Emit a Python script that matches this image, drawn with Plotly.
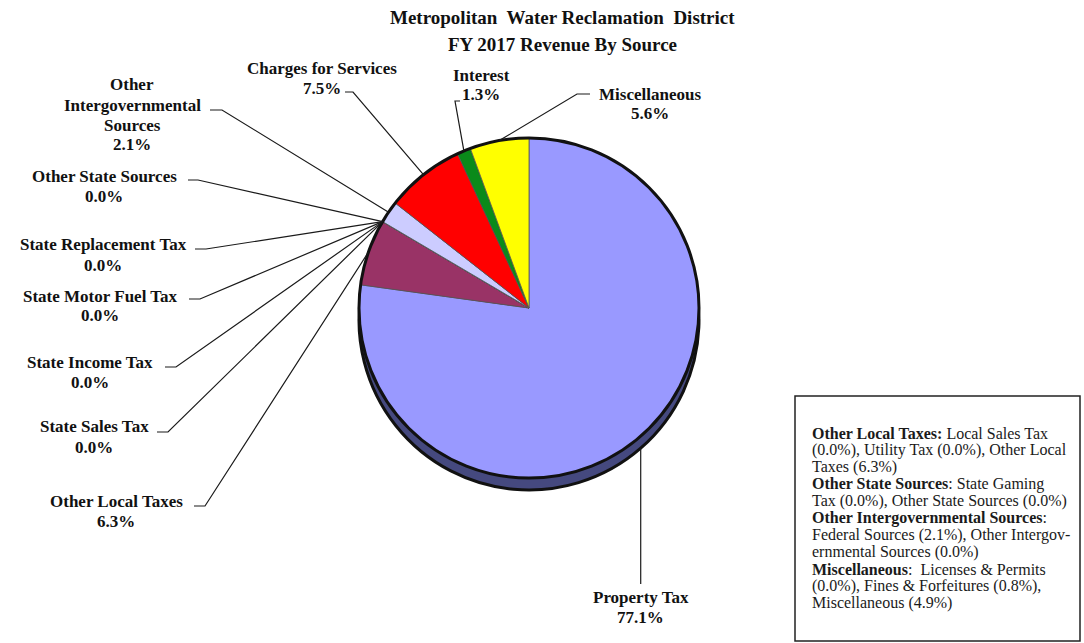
import math
import plotly.graph_objects as go

# ---------------- data ----------------
categories = [
    "Property Tax", "Other Local Taxes", "State Sales Tax", "State Income Tax",
    "State Motor Fuel Tax", "State Replacement Tax", "Other State Sources",
    "Other Intergovernmental Sources", "Charges for Services", "Interest", "Miscellaneous",
]
shares = [77.1, 6.3, 0.0, 0.0, 0.0, 0.0, 0.0, 2.1, 7.5, 1.3, 5.6]

label_text = {
    "Property Tax": ["Property Tax"],
    "Other Local Taxes": ["Other Local Taxes"],
    "State Sales Tax": ["State Sales Tax"],
    "State Income Tax": ["State Income Tax"],
    "State Motor Fuel Tax": ["State Motor Fuel Tax"],
    "State Replacement Tax": ["State Replacement Tax"],
    "Other State Sources": ["Other State Sources"],
    "Other Intergovernmental Sources": ["Other", "Intergovernmental", "Sources"],
    "Charges for Services": ["Charges for Services"],
    "Interest": ["Interest"],
    "Miscellaneous": ["Miscellaneous"],
}

title_lines = ["Metropolitan  Water Reclamation  District", "FY 2017 Revenue By Source"]

note_lines = [
    "<b>Other Local Taxes:</b> Local Sales Tax",
    "(0.0%), Utility Tax (0.0%), Other Local",
    "Taxes (6.3%)",
    "<b>Other State Sources</b>: State Gaming",
    "Tax (0.0%), Other State Sources (0.0%)",
    "<b>Other Intergovernmental Sources</b>:",
    "Federal Sources (2.1%), Other Intergov-",
    "ernmental Sources (0.0%)",
    "<b>Miscellaneous</b>:  Licenses &amp; Permits",
    "(0.0%), Fines &amp; Forfeitures (0.8%),",
    "Miscellaneous (4.9%)",
]

# ---------------- styles / layout ----------------
W, H = 1084, 643
CX, CY, R, DEPTH = 529, 308, 170, 12

top_colors = ["#9999FF", "#993366", "#FFFFCC", "#CCFFFF", "#660066", "#FF8080",
              "#0066CC", "#CCCCFF", "#FF0000", "#0A8A1A", "#FFFF00"]
side_colors = ["#45497F", "#5A1F3C", "#999977", "#779999", "#330033", "#994D4D",
               "#003D7A", "#7A7A99", "#990000", "#055010", "#999900"]

LABEL_FONT = dict(family="Liberation Serif", size=17, color="#111111")
LINE_GAP = 20

# label layout: center x, y of first line, stub points (line leaves label here)
label_pos = {
    "Property Tax": dict(x=None, y=597, stub=None),
    "Other Local Taxes": dict(x=116, y=501, stub=[(194, 506), (205, 506)]),
    "State Sales Tax": dict(x=94, y=427, stub=[(157, 432), (168, 432)]),
    "State Income Tax": dict(x=90, y=362, stub=[(165, 367), (176, 367)]),
    "State Motor Fuel Tax": dict(x=100, y=296, stub=[(189, 299), (200, 299)]),
    "State Replacement Tax": dict(x=103, y=245, stub=[(195, 249), (206, 249)]),
    "Other State Sources": dict(x=104, y=176, stub=[(188, 180), (198, 180)]),
    "Other Intergovernmental Sources": dict(x=132, y=85, stub=[(210, 110), (222, 110)]),
    "Charges for Services": dict(x=322, y=68, stub=[(345, 92), (353, 92)]),
    "Interest": dict(x=481, y=75, stub=[(460, 101), (455, 101)]),
    "Miscellaneous": dict(x=650, y=94, stub=[(590, 94), (577, 94)]),
}


def px(x):
    return x / W


def py(y):
    return 1 - y / H


def dom(cx, cy, r):
    return dict(x=[px(cx - r), px(cx + r)], y=[py(cy + r), py(cy - r)])


fig = go.Figure()

pie_common = dict(
    labels=categories, values=shares, sort=False, direction="clockwise",
    rotation=0, textinfo="none", hoverinfo="skip", showlegend=False,
)

# side (depth) of the pie
fig.add_trace(go.Pie(
    **pie_common, domain=dom(CX, CY + DEPTH, R),
    marker=dict(colors=side_colors, line=dict(color="#111111", width=3)),
))
# top face
fig.add_trace(go.Pie(
    **pie_common, domain=dom(CX, CY, R),
    marker=dict(colors=top_colors, line=dict(color="#555555", width=0.8)),
))
# outer rim outline of the top face
fig.add_trace(go.Pie(
    labels=["rim"], values=[1], sort=False, textinfo="none", hoverinfo="skip",
    showlegend=False, domain=dom(CX, CY, R),
    marker=dict(colors=["rgba(0,0,0,0)"], line=dict(color="#111111", width=3)),
))

annotations = []
shapes = []

total = sum(shares)
cum = 0.0
for name, v in zip(categories, shares):
    mid = (cum + v / 2) / total
    cum += v
    th = 2 * math.pi * mid
    tx = CX + R * math.sin(th)
    ty = CY - R * math.cos(th)
    if math.cos(th) < 0:
        ty += DEPTH
    pos = label_pos[name]
    lines = label_text[name] + [f"{v:.1f}%"]
    lx = pos["x"] if pos["x"] is not None else tx
    for i, t in enumerate(lines):
        annotations.append(dict(
            x=px(lx), y=py(pos["y"] + i * LINE_GAP), xref="paper", yref="paper",
            text=f"<b>{t}</b>", showarrow=False, xanchor="center", yanchor="middle",
            font=LABEL_FONT,
        ))
    if pos["stub"] is None:
        pts = [(tx, pos["y"] - 13), (tx, ty)]
    else:
        pts = list(pos["stub"]) + [(tx, ty)]
    path = "M " + " L ".join(f"{px(a):.5f},{py(b):.5f}" for a, b in pts)
    shapes.append(dict(type="path", path=path, xref="paper", yref="paper",
                       line=dict(color="#1a1a1a", width=1.2)))

# title
for i, t in enumerate(title_lines):
    annotations.append(dict(
        x=px(562), y=py(17 + i * 28), xref="paper", yref="paper",
        text=f"<b>{t}</b>", showarrow=False, xanchor="center", yanchor="middle",
        font=dict(family="Liberation Serif", size=19, color="#111111"),
    ))

# note box
shapes.append(dict(type="rect", xref="paper", yref="paper",
                   x0=px(795), x1=px(1080), y0=py(641), y1=py(396),
                   line=dict(color="#222222", width=1.5), fillcolor="rgba(0,0,0,0)"))
for i, t in enumerate(note_lines):
    annotations.append(dict(
        x=px(810), y=py(433 + i * 17), xref="paper", yref="paper",
        text=t, showarrow=False, xanchor="left", yanchor="middle",
        font=dict(family="Liberation Serif", size=16, color="#1a1a1a"),
    ))

fig.update_layout(
    width=W, height=H, margin=dict(l=0, r=0, t=0, b=0),
    paper_bgcolor="white", plot_bgcolor="white",
    annotations=annotations, shapes=shapes,
)

fig.write_html(
    "out.html",
    config={"displayModeBar": False},
    post_script="document.body.style.margin='0px';document.body.style.overflow='hidden';",
)
